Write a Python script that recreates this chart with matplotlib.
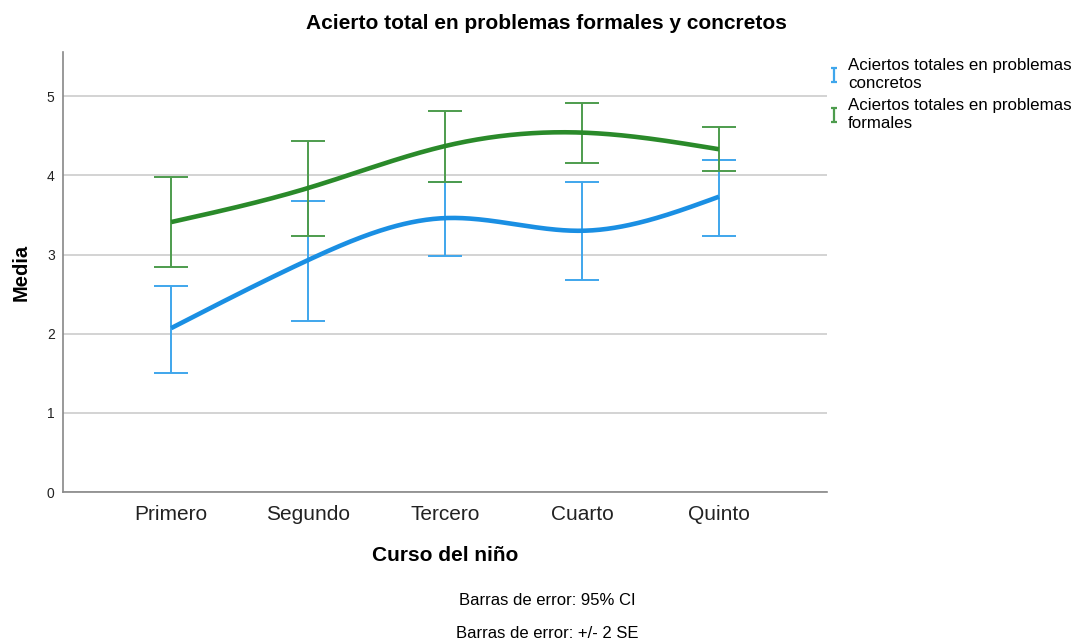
import numpy as np
import matplotlib.pyplot as plt
from matplotlib.path import Path
from matplotlib.lines import Line2D

plt.rcParams['font.family'] = ['Liberation Sans', 'DejaVu Sans']

cursos = ['Primero', 'Segundo', 'Tercero', 'Cuarto', 'Quinto']

media_concretos = [2.07, 2.93, 3.46, 3.30, 3.73]
sup_concretos = [2.60, 3.67, 3.92, 3.91, 4.20]
inf_concretos = [1.50, 2.16, 2.98, 2.68, 3.24]

media_formales = [3.41, 3.84, 4.37, 4.54, 4.33]
sup_formales = [3.98, 4.43, 4.81, 4.92, 4.61]
inf_formales = [2.84, 3.24, 3.92, 4.15, 4.06]

azul = '#1a8fe3'
azul_claro = '#3fa6ec'
verde = '#2a8a2a'
verde_claro = '#4d9c4d'


def spline_natural(x, y, n=300):
    x = np.asarray(x, float)
    y = np.asarray(y, float)
    k = len(x)
    h = np.diff(x)
    A = np.zeros((k, k))
    r = np.zeros(k)
    A[0, 0] = A[-1, -1] = 1
    for i in range(1, k - 1):
        A[i, i - 1] = h[i - 1]
        A[i, i] = 2 * (h[i - 1] + h[i])
        A[i, i + 1] = h[i]
        r[i] = 6 * ((y[i + 1] - y[i]) / h[i] - (y[i] - y[i - 1]) / h[i - 1])
    M = np.linalg.solve(A, r)
    xs = np.linspace(x[0], x[-1], n)
    ys = np.empty_like(xs)
    for j, t in enumerate(xs):
        i = min(np.searchsorted(x, t, side='right') - 1, k - 2)
        a, b = x[i], x[i + 1]
        hh = b - a
        ys[j] = (M[i] * (b - t) ** 3 / (6 * hh) + M[i + 1] * (t - a) ** 3 / (6 * hh)
                 + (y[i] / hh - M[i] * hh / 6) * (b - t)
                 + (y[i + 1] / hh - M[i + 1] * hh / 6) * (t - a))
    return xs, ys


fig = plt.figure(figsize=(10.79, 6.44), dpi=100)
ax = fig.add_axes([0.0584, 0.236, 0.7081, 0.683])

x = np.arange(len(cursos))

for media, sup, inf, c_lin, c_err in [
        (media_concretos, sup_concretos, inf_concretos, azul, azul_claro),
        (media_formales, sup_formales, inf_formales, verde, verde_claro)]:
    media = np.array(media)
    yerr = [media - np.array(inf), np.array(sup) - media]
    ax.errorbar(x, media, yerr=yerr, fmt='none', ecolor=c_err, elinewidth=1.4,
                capsize=12.5, capthick=1.4, zorder=3)
    xs, ys = spline_natural(x, media)
    ax.plot(xs, ys, color=c_lin, lw=3.3, zorder=4, solid_capstyle='butt')

ax.set_xlim(-0.79, 4.79)
ax.set_ylim(0, 5.556)
ax.set_yticks(range(6))
ax.set_xticks(x)
ax.set_xticklabels(cursos, fontsize=15, color='#222222')
ax.tick_params(axis='y', labelsize=10, colors='#222222', length=0, pad=6)
ax.tick_params(axis='x', length=0, pad=9)
ax.yaxis.grid(True, color='#cccccc', lw=1.2)
ax.set_axisbelow(True)
for s in ['top', 'right']:
    ax.spines[s].set_visible(False)
for s in ['left', 'bottom']:
    ax.spines[s].set_color('#888888')
    ax.spines[s].set_linewidth(1.2)

ax.set_ylabel('Media', fontsize=14.5, fontweight='bold', labelpad=12)
ax.set_xlabel('Curso del niño', fontsize=15, fontweight='bold', labelpad=16)

fig.text(0.506, 0.963, 'Acierto total en problemas formales y concretos',
         ha='center', va='center', fontsize=15, fontweight='bold')

fig.text(0.507, 0.068, 'Barras de error: 95% CI', ha='center', va='center', fontsize=12)
fig.text(0.507, 0.017, 'Barras de error: +/- 2 SE', ha='center', va='center', fontsize=12)

barra = Path([(-0.5, 1), (0.5, 1), (0, 1), (0, -1), (-0.5, -1), (0.5, -1)],
             [Path.MOVETO, Path.LINETO, Path.MOVETO, Path.LINETO, Path.MOVETO, Path.LINETO])
h1 = Line2D([], [], ls='none', marker=barra, markersize=10, markeredgecolor=azul_claro,
            markerfacecolor='none', markeredgewidth=1.6)
h2 = Line2D([], [], ls='none', marker=barra, markersize=10, markeredgecolor=verde_claro,
            markerfacecolor='none', markeredgewidth=1.6)
leg = fig.legend([h1, h2],
                 ['Aciertos totales en problemas\nconcretos', 'Aciertos totales en problemas\nformales'],
                 loc='upper left', bbox_to_anchor=(0.761, 0.92), frameon=False, fontsize=12.2,
                 handlelength=0.7, handletextpad=0.5, labelspacing=0.4, borderaxespad=0)
for t in leg.get_texts():
    t.set_linespacing(1.25)

fig.savefig('out.png', dpi=100)
